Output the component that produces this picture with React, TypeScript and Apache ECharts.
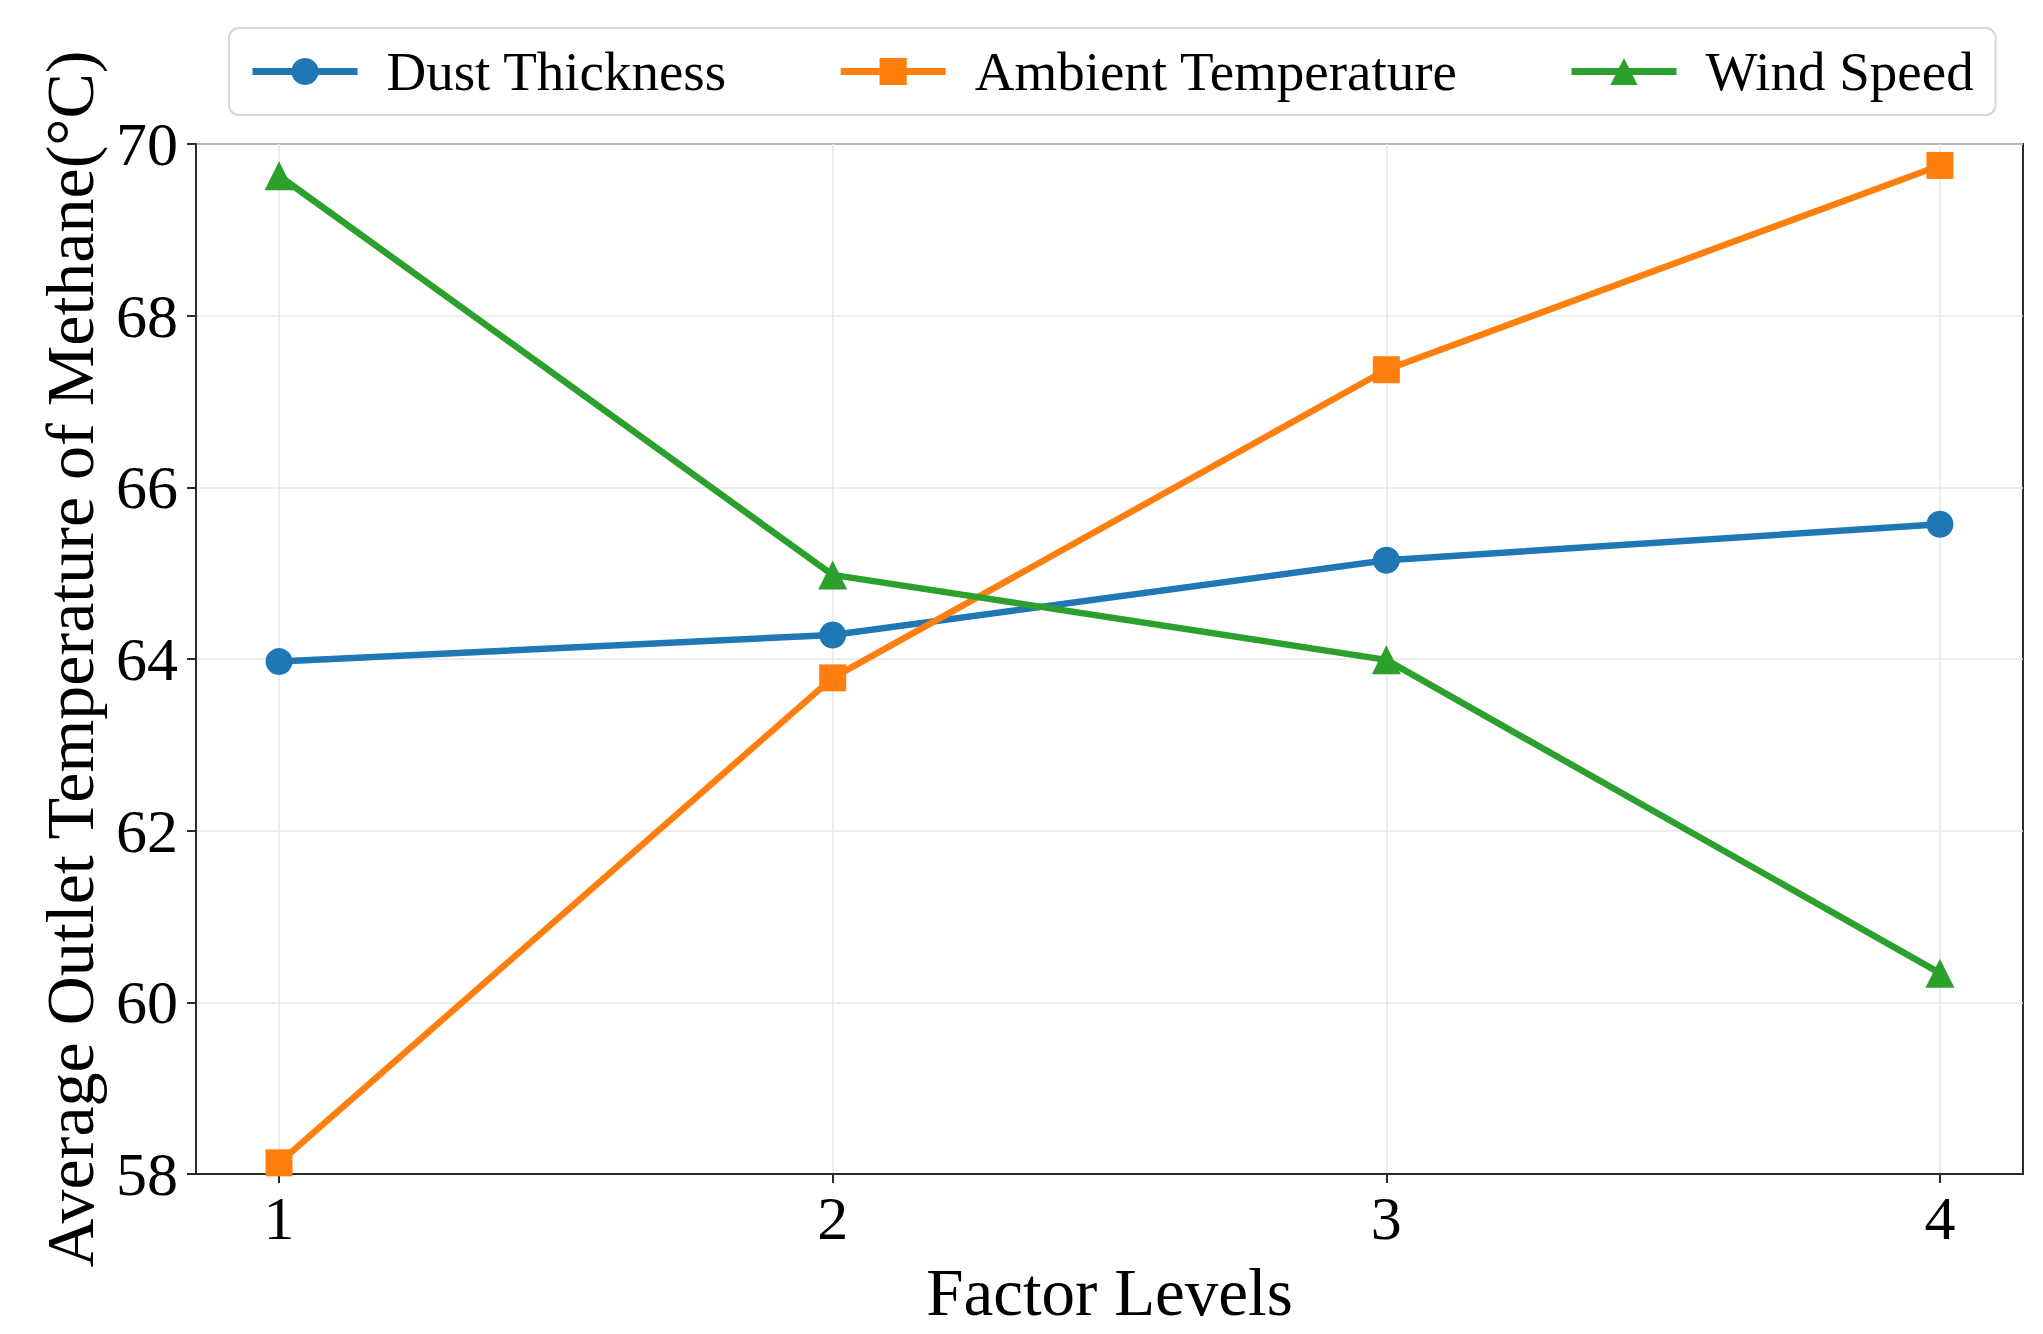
import React, { useRef, useEffect } from 'react';
import * as echarts from 'echarts';

// factor levels on the x axis
const levels = [1, 2, 3, 4];
const yTicks = [58, 60, 62, 64, 66, 68, 70];

// average outlet temperature of methane (°C) per factor level
const dustThickness = [63.97, 64.28, 65.15, 65.57];
const ambientTemperature = [58.13, 63.78, 67.37, 69.75];
const windSpeed = [69.63, 64.98, 63.99, 60.34];

const FONT = '"Liberation Serif", "Times New Roman", serif';

const App: React.FC = () => {
  const chartRef = useRef<HTMLDivElement>(null);

  useEffect(() => {
    if (!chartRef.current) return;
    const chart = echarts.init(chartRef.current, undefined, { renderer: 'svg' });

    const mk = (name: string, values: number[], color: string, symbol: string, size: number) => ({
      name,
      type: 'line' as const,
      data: levels.map((x, i) => [x, values[i]]),
      symbol,
      symbolSize: size,
      showSymbol: true,
      lineStyle: { width: 6.5, color },
      itemStyle: { color },
      z: 3,
    });

    const option: echarts.EChartsOption = {
      animation: false,
      backgroundColor: '#ffffff',
      textStyle: { fontFamily: FONT, color: '#000' },
      legend: {
        left: 229,
        top: 28,
        padding: [16, 22, 16, 20],
        itemWidth: 105,
        itemHeight: 34,
        itemGap: 110,
        lineStyle: { width: 7 },
        borderColor: '#d6d6d6',
        borderWidth: 2,
        borderRadius: 10,
        backgroundColor: '#fff',
        textStyle: { fontFamily: FONT, fontSize: 55, color: '#000', padding: [0, 0, 0, 24] },
        data: ['Dust Thickness', 'Ambient Temperature', 'Wind Speed'],
      },
      grid: {
        left: 196,
        right: 20,
        top: 144,
        bottom: 160,
        show: true,
        borderColor: '#2b2b2b',
        borderWidth: 2,
        backgroundColor: 'transparent',
      },
      xAxis: {
        type: 'value',
        min: 0.85,
        max: 4.15,
        name: 'Factor Levels',
        nameLocation: 'middle',
        nameGap: 84,
        nameTextStyle: { fontFamily: FONT, fontSize: 67, color: '#000' },
        axisLine: { show: true, lineStyle: { color: '#2b2b2b', width: 2 } },
        axisTick: { show: true, inside: false, length: 9, customValues: levels, lineStyle: { color: '#2b2b2b', width: 2 } },
        axisLabel: { customValues: levels, fontFamily: FONT, fontSize: 62, color: '#000', margin: 13 },
        splitLine: { show: true, lineStyle: { color: '#e6e6e6', width: 1.5 } },
      },
      yAxis: {
        type: 'value',
        min: yTicks[0],
        max: yTicks[yTicks.length - 1],
        interval: 2,
        name: 'Average Outlet Temperature of Methane(°C)',
        nameLocation: 'middle',
        nameGap: 92,
        nameTextStyle: { fontFamily: FONT, fontSize: 68, color: '#000' },
        axisLine: { show: true, lineStyle: { color: '#2b2b2b', width: 2 } },
        axisTick: { show: true, inside: false, length: 9, lineStyle: { color: '#2b2b2b', width: 2 } },
        axisLabel: { fontFamily: FONT, fontSize: 62, color: '#000', margin: 18 },
        splitLine: { show: true, lineStyle: { color: '#e6e6e6', width: 1.5 } },
      },
      series: [
        mk('Dust Thickness', dustThickness, '#1f77b4', 'circle', 27),
        mk('Ambient Temperature', ambientTemperature, '#ff7f0e', 'rect', 27),
        mk('Wind Speed', windSpeed, '#2ca02c', 'triangle', 29),
      ],
    };

    chart.setOption(option);
    return () => {
      chart.dispose();
    };
  }, []);

  return (
    <div
      ref={chartRef}
      style={{ position: 'absolute', left: 0, top: 0, width: 2043, height: 1334 }}
    />
  );
};

export default App;
